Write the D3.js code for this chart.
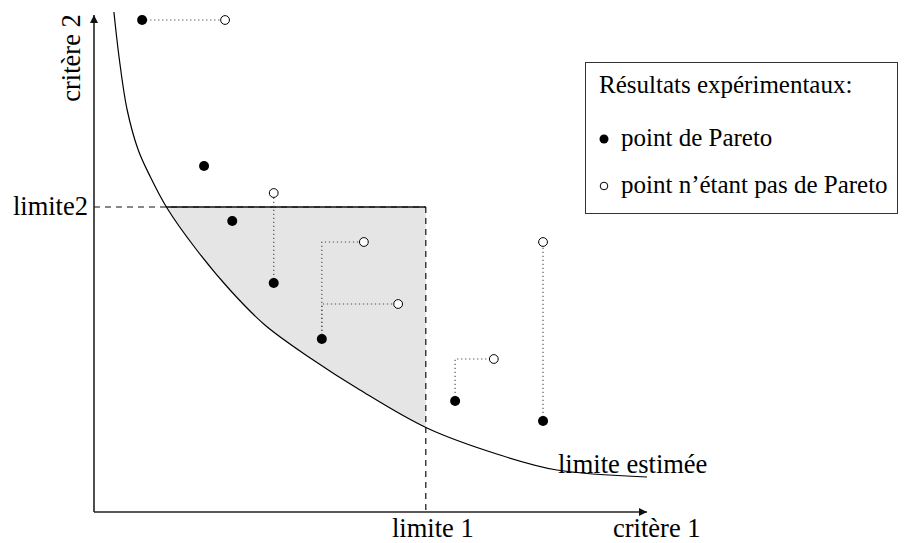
<!DOCTYPE html>
<meta charset="utf-8">
<style>
  body { margin: 0; padding: 0; background: #fff; }
  svg { display: block; }
  text { font-family: "Liberation Serif", "Times New Roman", serif; fill: #000; }
  .lbl { font-size: 26.5px; }
  .leg { font-size: 25px; }
</style>
<script src="https://d3js.org/d3.v7.min.js"></script>
<body>
<div id="chart"></div>
<script>
// estimated front ("limite estimée"), in criterion units
var frontX = [0.36, 0.46, 0.60, 0.80, 1.02, 1.32, 1.83, 2.46, 3.09, 3.91, 4.81, 6.02, 7.34, 8.37, 10.0];
var frontY = [10.0, 9.04, 8.04, 7.24, 6.70, 6.08, 5.28, 4.44, 3.74, 3.08, 2.44, 1.68, 1.14, 0.84, 0.70];

// experimental results
var paretoX = [0.87, 1.99, 2.50, 3.25, 4.12, 6.53, 8.12];
var paretoY = [9.84, 6.92, 5.82, 4.58, 3.46, 2.22, 1.82];
var otherX = [2.37, 3.25, 4.88, 5.50, 7.23, 8.12];
var otherY = [9.84, 6.38, 5.40, 4.16, 3.06, 5.40];
// which pareto point dominates which other point
var links = [[0, 0], [3, 1], [4, 2], [4, 3], [5, 4], [6, 5]];

var limit1 = 6.0, limit2 = 6.1;

var legendTitle = "Résultats expérimentaux:";
var legendItems = ["point de Pareto", "point n\u2019étant pas de Pareto"];

var W = 907, H = 543;
var svg = d3.select("#chart").append("svg").attr("width", W).attr("height", H);

var x = d3.scaleLinear().domain([0, 10]).range([94, 647]);
var y = d3.scaleLinear().domain([0, 10]).range([512, 12]);

var front = frontX.map(function(v, i) { return [v, frontY[i]]; });
var line = d3.line().x(function(d) { return x(d[0]); }).y(function(d) { return y(d[1]); })
  .curve(d3.curveCatmullRom.alpha(0.5));
var frontPath = line(front);
// region above / right of the front
var aboveFront = frontPath + "L" + x(10) + "," + y(10) + "Z";

var defs = svg.append("defs");
defs.append("clipPath").attr("id", "box")
  .append("rect")
  .attr("x", x(0)).attr("y", y(limit2))
  .attr("width", x(limit1) - x(0)).attr("height", y(0) - y(limit2));
defs.append("clipPath").attr("id", "above")
  .append("path").attr("d", aboveFront);
defs.append("marker").attr("id", "arrow")
  .attr("viewBox", "0 0 10 10").attr("refX", 10).attr("refY", 5)
  .attr("markerWidth", 14).attr("markerHeight", 8).attr("markerUnits", "userSpaceOnUse")
  .attr("orient", "auto")
  .append("path").attr("d", "M0,0L10,5L0,10Z").attr("fill", "#111");

// shaded zone
svg.append("path").attr("d", aboveFront).attr("clip-path", "url(#box)")
  .attr("fill", "#e5e5e5");

// limits
svg.append("line")
  .attr("x1", x(0)).attr("x2", x(limit1)).attr("y1", y(limit2)).attr("y2", y(limit2))
  .attr("stroke", "#111").attr("stroke-width", 1.2).attr("stroke-dasharray", "6,5");
svg.append("line").attr("clip-path", "url(#above)")
  .attr("x1", x(0)).attr("x2", x(limit1)).attr("y1", y(limit2)).attr("y2", y(limit2))
  .attr("stroke", "#111").attr("stroke-width", 1.4);
svg.append("line")
  .attr("x1", x(limit1)).attr("x2", x(limit1)).attr("y1", y(limit2)).attr("y2", y(0))
  .attr("stroke", "#111").attr("stroke-width", 1.2).attr("stroke-dasharray", "6,5");

// front
svg.append("path").attr("d", frontPath).attr("fill", "none")
  .attr("stroke", "#000").attr("stroke-width", 1.2);

// axes
svg.append("line")
  .attr("x1", x(0)).attr("y1", y(0)).attr("x2", x(10)).attr("y2", y(0))
  .attr("stroke", "#222").attr("stroke-width", 1.6).attr("marker-end", "url(#arrow)");
svg.append("line")
  .attr("x1", x(0)).attr("y1", y(0)).attr("x2", x(0)).attr("y2", y(9.94))
  .attr("stroke", "#222").attr("stroke-width", 1.6).attr("marker-end", "url(#arrow)");

// dotted links
svg.append("g").selectAll("path").data(links).enter().append("path")
  .attr("d", function(d) {
    var px = paretoX[d[0]], py = paretoY[d[0]], nx = otherX[d[1]], ny = otherY[d[1]];
    return d3.line()([[x(px), y(py)], [x(px), y(ny)], [x(nx), y(ny)]]);
  })
  .attr("fill", "none").attr("stroke", "#555").attr("stroke-width", 1.2)
  .attr("stroke-dasharray", "1.3,2.7");

// points
svg.append("g").selectAll("circle").data(paretoX).enter().append("circle")
  .attr("cx", function(d) { return x(d); })
  .attr("cy", function(d, i) { return y(paretoY[i]); })
  .attr("r", 5).attr("fill", "#000");
svg.append("g").selectAll("circle").data(otherX).enter().append("circle")
  .attr("cx", function(d) { return x(d); })
  .attr("cy", function(d, i) { return y(otherY[i]); })
  .attr("r", 4.4).attr("fill", "#fff").attr("stroke", "#000").attr("stroke-width", 1);

// labels
svg.append("text").attr("class", "lbl").attr("x", 88).attr("y", 215)
  .attr("text-anchor", "end").text("limite2");
svg.append("text").attr("class", "lbl").attr("x", x(limit1) + 7).attr("y", 537)
  .attr("text-anchor", "middle").text("limite 1");
svg.append("text").attr("class", "lbl").attr("x", 613).attr("y", 537).text("critère 1");
svg.append("text").attr("class", "lbl").attr("x", 558).attr("y", 473).text("limite estimée");
svg.append("text").attr("class", "lbl")
  .attr("transform", "translate(80,58) rotate(-90)")
  .attr("text-anchor", "middle").text("critère 2");

// legend
var lg = svg.append("g");
lg.append("rect").attr("x", 585.5).attr("y", 62.5).attr("width", 312).attr("height", 151)
  .attr("fill", "#fff").attr("stroke", "#333").attr("stroke-width", 1);
lg.append("text").attr("class", "leg").attr("x", 599).attr("y", 93).text(legendTitle);
lg.append("circle").attr("cx", 604).attr("cy", 139).attr("r", 4.5).attr("fill", "#000");
lg.append("text").attr("class", "leg").attr("x", 621).attr("y", 146).text(legendItems[0]);
lg.append("circle").attr("cx", 604).attr("cy", 186).attr("r", 3.8)
  .attr("fill", "#fff").attr("stroke", "#000").attr("stroke-width", 1);
lg.append("text").attr("class", "leg").attr("x", 621).attr("y", 193).text(legendItems[1]);
</script>
</body>
